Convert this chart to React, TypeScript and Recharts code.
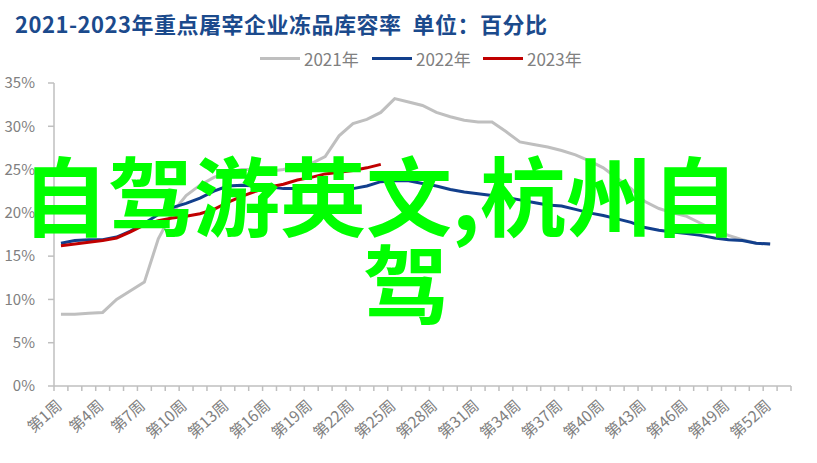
import { CartesianGrid, Line, LineChart, XAxis, YAxis } from "recharts";

const weeks = Array.from({ length: 53 }, (_, i) => i + 1);

const y2021 = [
  8.3, 8.3, 8.4, 8.5, 10.0, 11.0, 12.0, 17.0, 20.0, 22.0, 23.2, 24.1, 24.7,
  25.0, 25.0, 24.8, 25.0, 25.4, 25.7, 26.5, 28.9, 30.3, 30.8, 31.6, 33.2, 32.8,
  32.4, 31.6, 31.1, 30.7, 30.5, 30.5, 29.4, 28.2, 27.9, 27.6, 27.2, 26.7, 26.0,
  25.2, 24.0, 22.8, 21.3, 20.5, 20.0, 19.6, 18.8, 18.0, 17.4, 16.9, 16.5, 16.4,
];

const y2022 = [
  16.5, 16.8, 16.9, 16.9, 17.2, 17.9, 18.8, 19.8, 20.6, 21.1, 21.7, 22.5, 23.1,
  23.2, 23.1, 23.0, 22.8, 22.8, 22.8, 22.8, 22.8, 22.8, 23.1, 23.6, 23.7, 23.7,
  23.4, 23.1, 22.7, 22.4, 22.2, 22.0, 21.8, 21.5, 21.2, 20.9, 20.8, 20.4, 20.0,
  19.7, 19.3, 18.9, 18.3, 18.0, 17.8, 17.6, 17.4, 17.1, 16.9, 16.8, 16.5, 16.4,
];

const y2023 = [
  16.2, 16.4, 16.6, 16.8, 17.1, 17.8, 18.6, 19.1, 19.4, 19.6, 19.9, 20.4, 21.2,
  21.9, 22.5, 23.0, 23.3, 23.8, 24.1, 24.5, 24.7, 24.9, 25.2, 25.6,
];

const labelWeeks = [1, 4, 7, 10, 13, 16, 19, 22, 25, 28, 31, 34, 37, 40, 43, 46, 49, 52];
const yTicks = [0, 5, 10, 15, 20, 25, 30, 35];

const series = [
  { key: "2021年", color: "#BFBFBF", values: y2021 },
  { key: "2022年", color: "#123F8C", values: y2022 },
  { key: "2023年", color: "#C00000", values: y2023 },
];

const data = weeks.map((w, i) => {
  const row: Record<string, number | undefined> = { week: w };
  series.forEach((s) => {
    row[s.key] = s.values[i];
  });
  return row;
});

const FONT = '"Noto Sans CJK SC", "Noto Sans", sans-serif';
const GRAY = "#808080";
const AXIS = "#BFBFBF";
const W = 817;
const H = 463;
const BOTTOM = 386;

const boundaries = Array.from({ length: 54 }, (_, i) => i + 0.5);

function WeekTick(props: any) {
  const { x, payload } = props;
  const v = payload.value;
  if (v % 1 !== 0) {
    return <line x1={x} y1={BOTTOM} x2={x} y2={BOTTOM + 5} stroke={AXIS} strokeWidth={1.5} />;
  }
  const tx = x + 2;
  const ty = BOTTOM + 21;
  return (
    <text
      x={tx}
      y={ty}
      transform={`rotate(-42, ${tx}, ${ty})`}
      textAnchor="end"
      fontSize={15.5}
      fill={GRAY}
      fontFamily={FONT}
    >
      {`第${v}周`}
    </text>
  );
}

const legendLeft = [260, 372, 483];

export default function App() {
  return (
    <div
      style={{
        position: "absolute",
        left: 0,
        top: 0,
        width: W,
        height: H,
        background: "#fff",
        fontFamily: FONT,
        overflow: "hidden",
      }}
    >
      <div
        style={{
          position: "absolute",
          left: 15,
          top: 10,
          fontSize: 22,
          lineHeight: "26px",
          fontWeight: 700,
          color: "#1B4A8C",
          whiteSpace: "nowrap",
          letterSpacing: 0.5,
        }}
      >
        2021-2023年重点屠宰企业冻品库容率&nbsp;&nbsp;单位：百分比
      </div>

      {series.map((s, i) => (
        <div
          key={s.key}
          style={{
            position: "absolute",
            left: legendLeft[i],
            top: 46,
            height: 24,
            display: "flex",
            alignItems: "center",
            whiteSpace: "nowrap",
          }}
        >
          <div style={{ width: 40, height: 3, background: s.color }} />
          <span style={{ marginLeft: 4, fontSize: 17, color: GRAY }}>{s.key}</span>
        </div>
      ))}

      <div style={{ position: "absolute", left: 0, top: 0 }}>
        <LineChart
          width={W}
          height={H}
          data={data}
          margin={{ top: 83, right: 26, left: 0, bottom: 7 }}
        >
          <CartesianGrid vertical={false} horizontal={false} />
          <XAxis
            dataKey="week"
            type="number"
            domain={[0.5, 53.5]}
            ticks={[...boundaries, ...labelWeeks]}
            interval={0}
            allowDecimals
            height={70}
            tickLine={false}
            axisLine={{ stroke: AXIS, strokeWidth: 1.5 }}
            tick={<WeekTick />}
          />
          <YAxis
            type="number"
            domain={[0, 35]}
            ticks={yTicks}
            width={54}
            tickSize={6}
            tickMargin={13}
            tickFormatter={(v) => `${v}%`}
            axisLine={{ stroke: AXIS, strokeWidth: 1.5 }}
            tickLine={{ stroke: AXIS, strokeWidth: 1.5 }}
            tick={{ fontSize: 15, fill: GRAY, fontFamily: FONT }}
          />
          {series.map((s) => (
            <Line
              key={s.key}
              dataKey={s.key}
              stroke={s.color}
              strokeWidth={3}
              dot={false}
              type="linear"
              isAnimationActive={false}
            />
          ))}
        </LineChart>
      </div>

      <div
        style={{
          position: "absolute",
          left: 22,
          top: 150,
          fontSize: 86,
          lineHeight: "86px",
          fontWeight: 700,
          color: "#00FF00",
          whiteSpace: "nowrap",
        }}
      >
        自驾游英文,杭州自
      </div>
      <div
        style={{
          position: "absolute",
          left: 363,
          top: 238,
          fontSize: 86,
          lineHeight: "86px",
          fontWeight: 700,
          color: "#00FF00",
          whiteSpace: "nowrap",
        }}
      >
        驾
      </div>
    </div>
  );
}
